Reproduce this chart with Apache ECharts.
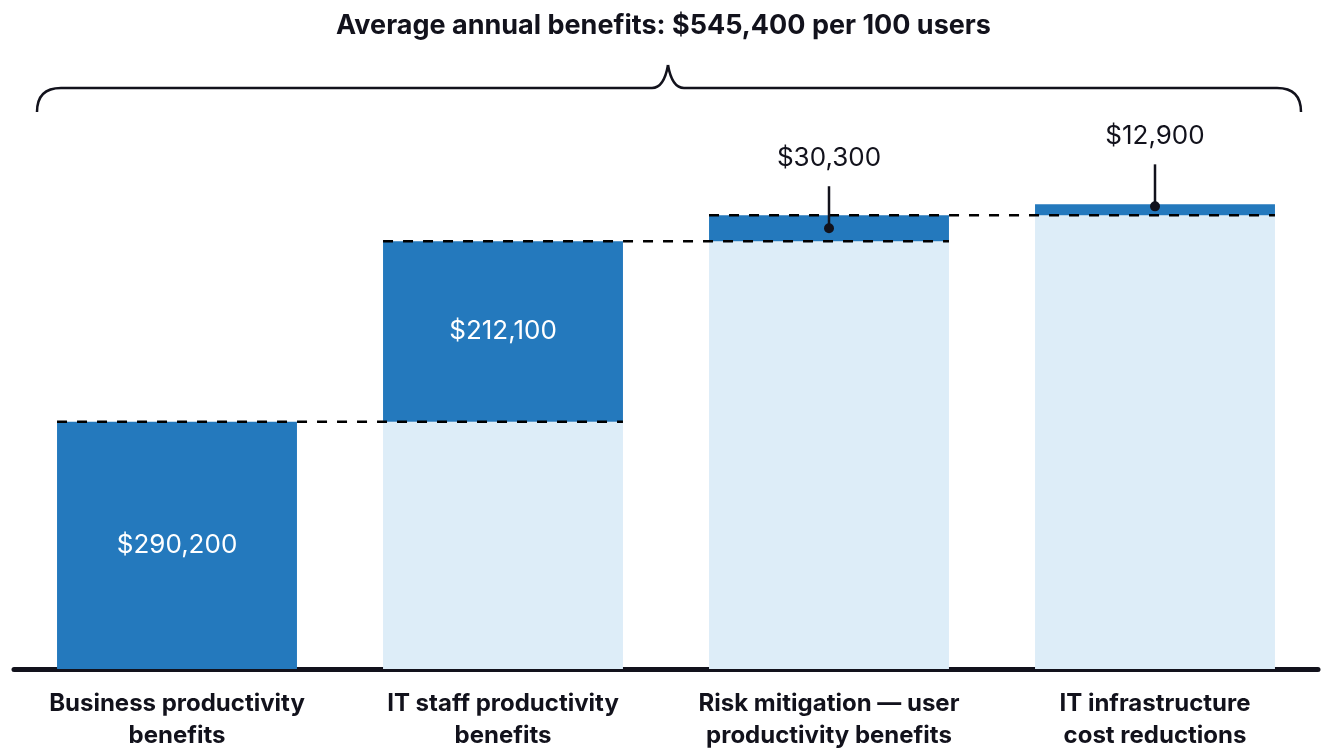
<!DOCTYPE html>
<html>
<head>
<meta charset="utf-8">
<script src="https://cdn.jsdelivr.net/npm/echarts@6/dist/echarts.min.js"></script>
<style>
html,body{margin:0;padding:0;background:#fff;}
#chart{width:1327px;height:748px;}
</style>
</head>
<body>
<div id="chart"></div>
<script>
// ---- data ----
var categories = ['Business productivity\nbenefits', 'IT staff productivity\nbenefits', 'Risk mitigation \u2014 user\nproductivity benefits', 'IT infrastructure\ncost reductions'];
var benefitValues = [290200, 212100, 30300, 12900];
var valueLabels = ['$290,200', '$212,100', '$30,300', '$12,900'];
var titleText = 'Average annual benefits: $545,400 per 100 users';

// waterfall base (running total before each step)
var baseValues = [];
var run = 0;
for (var i = 0; i < benefitValues.length; i++) { baseValues.push(run); run += benefitValues[i]; }

var FONT = 'Inter';
var DARK = '#2479bd';
var LIGHT = '#ddedf8';
var INK = '#12121c';
var BAR_FRAC = 0.736;

var chart = echarts.init(document.getElementById('chart'), null, {renderer: 'canvas'});

var braceStyle = {fill: 'none', stroke: INK, lineWidth: 2.5};
var option = {
  animation: false,
  backgroundColor: '#fff',
  title: {
    text: titleText, left: 'center', top: 7,
    textStyle: {fontFamily: FONT, fontSize: 27, fontWeight: 'bold', color: INK}
  },
  grid: {left: 14, right: 9, top: 100, bottom: 79, containLabel: false, outerBoundsMode: 'none'},
  xAxis: {
    type: 'category', data: categories,
    axisLine: {show: true, lineStyle: {color: INK, width: 5}},
    axisTick: {show: false},
    axisLabel: {fontFamily: FONT, fontSize: 24, fontWeight: 'bold', color: INK, lineHeight: 32, margin: 19, interval: 0}
  },
  yAxis: {type: 'value', min: 0, max: 668000, show: false, splitLine: {show: false}},
  graphic: [
    {type: 'bezierCurve', shape: {x1: 37, y1: 112, x2: 61, y2: 88, cpx1: 37, cpy1: 88}, style: braceStyle},
    {type: 'line', shape: {x1: 61, y1: 88, x2: 652, y2: 88}, style: braceStyle},
    {type: 'bezierCurve', shape: {x1: 652, y1: 88, x2: 668, y2: 65, cpx1: 664, cpy1: 88}, style: braceStyle},
    {type: 'bezierCurve', shape: {x1: 668, y1: 65, x2: 684, y2: 88, cpx1: 672, cpy1: 88}, style: braceStyle},
    {type: 'line', shape: {x1: 684, y1: 88, x2: 1277, y2: 88}, style: braceStyle},
    {type: 'bezierCurve', shape: {x1: 1277, y1: 88, x2: 1301, y2: 112, cpx1: 1301, cpy1: 88}, style: braceStyle}
  ],
  series: [
    {
      name: 'base', type: 'bar', stack: 'w', data: baseValues, barWidth: (BAR_FRAC * 100) + '%',
      itemStyle: {color: LIGHT}, silent: true
    },
    {
      name: 'benefit', type: 'bar', stack: 'w', barWidth: (BAR_FRAC * 100) + '%',
      data: benefitValues.map(function (v, i) {
        return {
          value: v,
          label: i < 2 ? {show: true, position: 'inside', formatter: valueLabels[i], color: '#fff', fontFamily: FONT, fontSize: 26} : {show: false}
        };
      }),
      itemStyle: {color: DARK}
    },
    {
      // dashed connectors between consecutive bars
      name: 'connector', type: 'custom', z: 5, silent: true,
      data: benefitValues.slice(0, benefitValues.length - 1).map(function (v, i) { return [i, baseValues[i] + v]; }),
      renderItem: function (params, api) {
        var idx = api.value(0), top = api.value(1);
        var p0 = api.coord([idx, top]);
        var p1 = api.coord([idx + 1, top]);
        var half = api.size([1, 0])[0] * BAR_FRAC / 2;
        return {
          type: 'line',
          shape: {x1: p0[0] - half, y1: p0[1], x2: p1[0] + half, y2: p1[1]},
          style: {stroke: '#000', lineWidth: 2.5, lineDash: [10, 10]}
        };
      }
    },
    {
      // callouts for the small steps
      name: 'callout', type: 'custom', z: 6, silent: true,
      data: [2, 3].map(function (i) { return [i, baseValues[i], baseValues[i] + benefitValues[i]]; }),
      renderItem: function (params, api) {
        var idx = api.value(0);
        var pb = api.coord([idx, api.value(1)]);
        var pt = api.coord([idx, api.value(2)]);
        var cx = pb[0];
        var cy = Math.min((pb[1] + pt[1]) / 2, pt[1] + 2);
        cy = (pb[1] + pt[1]) / 2 > pt[1] + 8 ? (pb[1] + pt[1]) / 2 : pt[1] + 2;
        var lab = valueLabels[idx];
        return {
          type: 'group',
          children: [
            {type: 'line', shape: {x1: cx, y1: cy, x2: cx, y2: cy - 42}, style: {stroke: INK, lineWidth: 2.5}},
            {type: 'circle', shape: {cx: cx, cy: cy, r: 5}, style: {fill: INK}},
            {type: 'text', style: {text: lab, x: cx, y: cy - 70, align: 'center', verticalAlign: 'middle', fill: INK, fontFamily: FONT, fontSize: 26}}
          ]
        };
      }
    }
  ]
};
chart.setOption(option);
</script>
</body>
</html>
